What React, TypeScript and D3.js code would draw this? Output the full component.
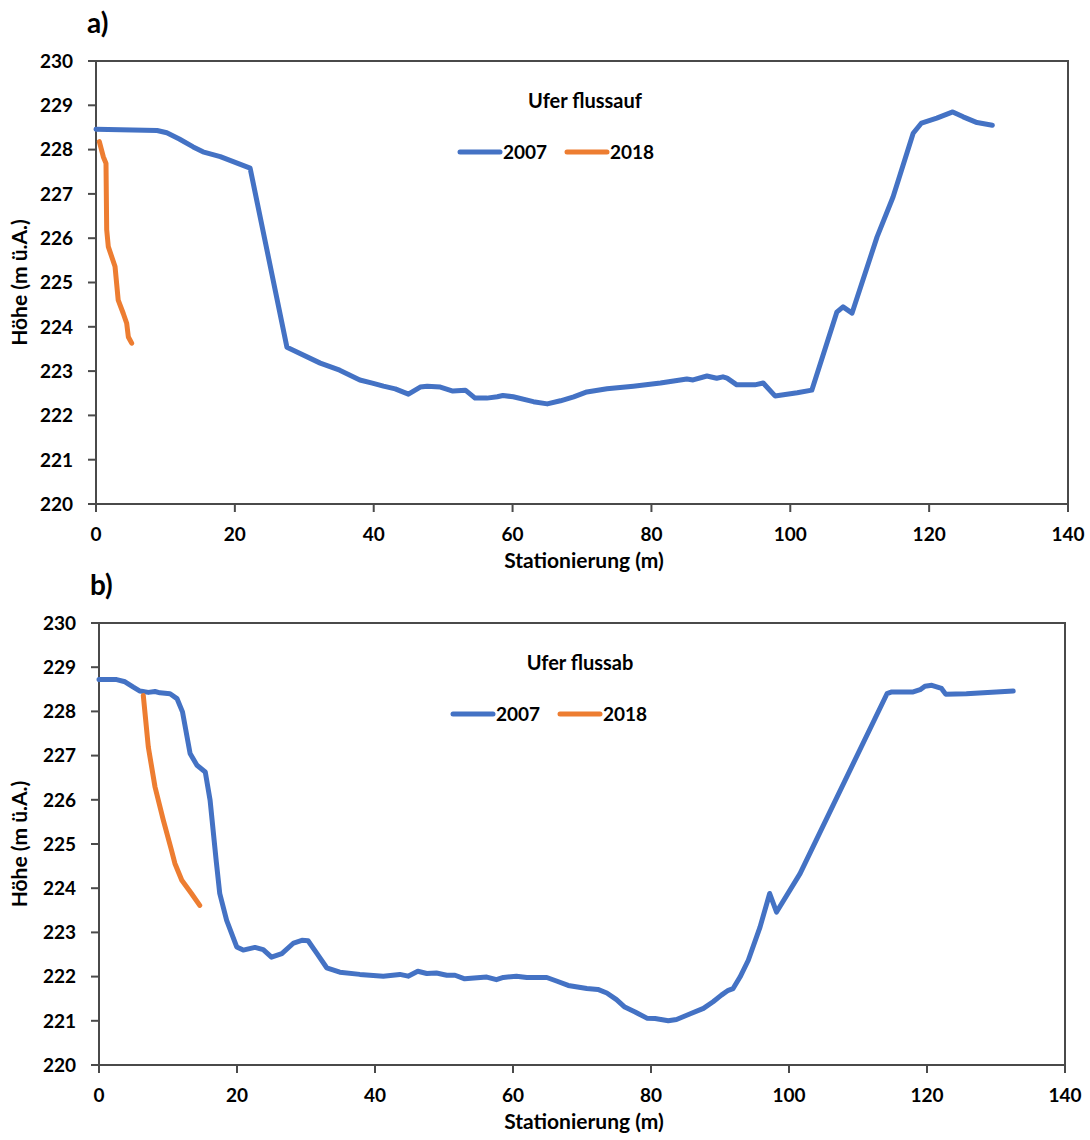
import React from "react";
import { scaleLinear, line } from "d3";

// Ufer flussauf (a)
const stationA2007 = [0, 8.8, 10.2, 12, 14, 15.4, 17.9, 22.2, 27.5, 32.3, 35.1, 38, 39.8, 41.4, 43.1, 45, 46.7, 47.7, 49.6, 51.4, 53.2, 54.6, 56.3, 57.8, 58.6, 60.1, 63, 65, 66.9, 68.8, 70.7, 73.6, 77.4, 81.3, 85.1, 86, 88, 89.4, 90.3, 90.9, 92.3, 94.9, 96.1, 97.8, 101, 103.1, 106.7, 107.6, 108.9, 112.5, 114.8, 117.7, 118.9, 121.1, 123.4, 124.9, 126.9, 129.1];
const hoeheA2007 = [228.46, 228.43, 228.38, 228.24, 228.06, 227.95, 227.84, 227.58, 223.54, 223.18, 223.02, 222.8, 222.73, 222.66, 222.6, 222.48, 222.64, 222.66, 222.64, 222.55, 222.57, 222.39, 222.39, 222.42, 222.45, 222.42, 222.31, 222.26, 222.33, 222.42, 222.53, 222.6, 222.66, 222.73, 222.82, 222.8, 222.89, 222.84, 222.87, 222.84, 222.69, 222.69, 222.73, 222.44, 222.51, 222.57, 224.33, 224.45, 224.31, 226.03, 226.93, 228.37, 228.6, 228.71, 228.85, 228.74, 228.61, 228.55];
const stationA2018 = [0.48, 1.05, 1.44, 1.54, 1.77, 2.74, 3.2, 3.93, 4.42, 4.66, 5.14];
const hoeheA2018 = [228.18, 227.84, 227.69, 226.19, 225.81, 225.36, 224.6, 224.3, 224.08, 223.77, 223.63];

// Ufer flussab (b)
const stationB2007 = [0, 2.56, 3.77, 4.98, 5.94, 7.15, 8.12, 8.84, 10.3, 11.3, 12.1, 13.2, 14.2, 15.4, 16.1, 17, 17.5, 18.5, 19.96, 20.9, 22.6, 23.8, 25, 26.5, 28.2, 29.4, 30.3, 31.6, 33, 34.9, 37.8, 41.2, 43.6, 44.8, 46.2, 47.5, 48.9, 50.4, 51.6, 53, 56.2, 57.6, 58.6, 60.5, 62, 64.9, 66.3, 68, 70.7, 72.3, 73.6, 75, 76.2, 77.7, 79.4, 80.6, 82.5, 83.7, 85.7, 87.6, 89, 90.2, 91.2, 91.9, 92.9, 94.1, 95.8, 97.2, 98.2, 101.6, 114.2, 114.9, 118, 119, 119.7, 120.7, 122.1, 122.7, 125.7, 132.5];
const hoeheB2007 = [228.72, 228.72, 228.67, 228.55, 228.46, 228.43, 228.45, 228.42, 228.4, 228.29, 227.99, 227.05, 226.78, 226.63, 225.99, 224.6, 223.88, 223.27, 222.67, 222.6, 222.66, 222.61, 222.44, 222.52, 222.76, 222.82, 222.81, 222.52, 222.2, 222.1, 222.05, 222.01, 222.05, 222.01, 222.12, 222.07, 222.08, 222.03, 222.03, 221.95, 221.99, 221.93, 221.98, 222.01, 221.98, 221.98, 221.9, 221.8, 221.73, 221.71, 221.63, 221.48, 221.31, 221.2, 221.06, 221.05, 221, 221.03, 221.16, 221.28, 221.43, 221.58, 221.69, 221.73, 221.99, 222.37, 223.12, 223.88, 223.46, 224.33, 228.4, 228.44, 228.44, 228.49, 228.57, 228.59, 228.52, 228.39, 228.4, 228.46];
const stationB2018 = [6.42, 7.15, 8.12, 9.32, 10.5, 11, 12, 13.4, 14.6];
const hoeheB2018 = [228.36, 227.19, 226.29, 225.54, 224.86, 224.56, 224.18, 223.88, 223.61];

const xTicks = [0, 20, 40, 60, 80, 100, 120, 140];
const yTicks = [220, 221, 222, 223, 224, 225, 226, 227, 228, 229, 230];
const seriesNames = ["2007", "2018"];
const seriesColors = ["#4472C4", "#ED7D31"];

const FONT = "Lato, 'Open Sans', sans-serif";
const AXIS = "#4a4a4a";

type PanelProps = {
  tag: string;
  title: string;
  x2007: number[];
  y2007: number[];
  x2018: number[];
  y2018: number[];
  left: number;
  right: number;
  top: number;
  bottom: number;
  titleX: number;
  legendX: number;
};

const Panel = (p: PanelProps) => {
  const xScale = scaleLinear().domain([0, 140]).range([p.left, p.right]);
  const yScale = scaleLinear().domain([220, 230]).range([p.bottom, p.top]);

  const makePath = (xs: number[], ys: number[]) =>
    line<number>()
      .x((d) => xScale(d))
      .y((_, i) => yScale(ys[i]))(xs) || "";

  const legendY = p.top + 91;
  return (
    <g>
      <text x={p.left - 9} y={p.top - 28} fontSize={28} fontWeight={700} fontFamily={FONT}>
        {p.tag}
      </text>
      {/* plot frame */}
      <rect x={p.left} y={p.top} width={p.right - p.left} height={p.bottom - p.top} fill="none" stroke={AXIS} strokeWidth={2} />
      {yTicks.map((t) => (
        <g key={"y" + t}>
          <line x1={p.left - 8} x2={p.left} y1={yScale(t)} y2={yScale(t)} stroke={AXIS} strokeWidth={2} />
          <text x={p.left - 23} y={yScale(t)} dy="0.36em" textAnchor="end" fontSize={19} fontWeight={700} fontFamily={FONT}>
            {t}
          </text>
        </g>
      ))}
      {xTicks.map((t) => (
        <g key={"x" + t}>
          <line x1={xScale(t)} x2={xScale(t)} y1={p.bottom} y2={p.bottom + 8} stroke={AXIS} strokeWidth={2} />
          <text x={xScale(t)} y={p.bottom + 37} textAnchor="middle" fontSize={19} fontWeight={700} fontFamily={FONT}>
            {t}
          </text>
        </g>
      ))}
      <text x={(p.left + p.right) / 2 + 2} y={p.bottom + 64} textAnchor="middle" fontSize={21} fontWeight={700} fontFamily={FONT}>
        Stationierung (m)
      </text>
      <text
        transform={`translate(27, ${(p.top + p.bottom) / 2}) rotate(-90)`}
        textAnchor="middle"
        fontSize={21}
        fontWeight={700}
        fontFamily={FONT}
      >
        Höhe (m ü.A.)
      </text>
      <text x={p.titleX} y={p.top + 47} textAnchor="middle" fontSize={20} fontWeight={700} fontFamily={FONT}>
        {p.title}
      </text>
      {seriesNames.map((n, i) => (
        <g key={n} transform={`translate(${p.legendX + i * 107}, ${legendY})`}>
          <line x1={0} x2={40} y1={0} y2={0} stroke={seriesColors[i]} strokeWidth={5} strokeLinecap="round" />
          <text x={43} y={0} dy="0.36em" fontSize={19} fontWeight={700} fontFamily={FONT}>
            {n}
          </text>
        </g>
      ))}
      <path d={makePath(p.x2007, p.y2007)} fill="none" stroke={seriesColors[0]} strokeWidth={5} strokeLinejoin="round" strokeLinecap="round" />
      <path d={makePath(p.x2018, p.y2018)} fill="none" stroke={seriesColors[1]} strokeWidth={5} strokeLinejoin="round" strokeLinecap="round" />
    </g>
  );
};

export default function App() {
  return (
    <svg width={1090} height={1140} style={{ position: "absolute", left: 0, top: 0, background: "#fff" }}>
      <Panel
        tag="a)"
        title="Ufer flussauf"
        x2007={stationA2007}
        y2007={hoeheA2007}
        x2018={stationA2018}
        y2018={hoeheA2018}
        left={96}
        right={1068}
        top={61}
        bottom={504}
        titleX={585}
        legendX={460}
      />
      <Panel
        tag="b)"
        title="Ufer flussab"
        x2007={stationB2007}
        y2007={hoeheB2007}
        x2018={stationB2018}
        y2018={hoeheB2018}
        left={99}
        right={1065}
        top={623}
        bottom={1065}
        titleX={580}
        legendX={453}
      />
    </svg>
  );
}
